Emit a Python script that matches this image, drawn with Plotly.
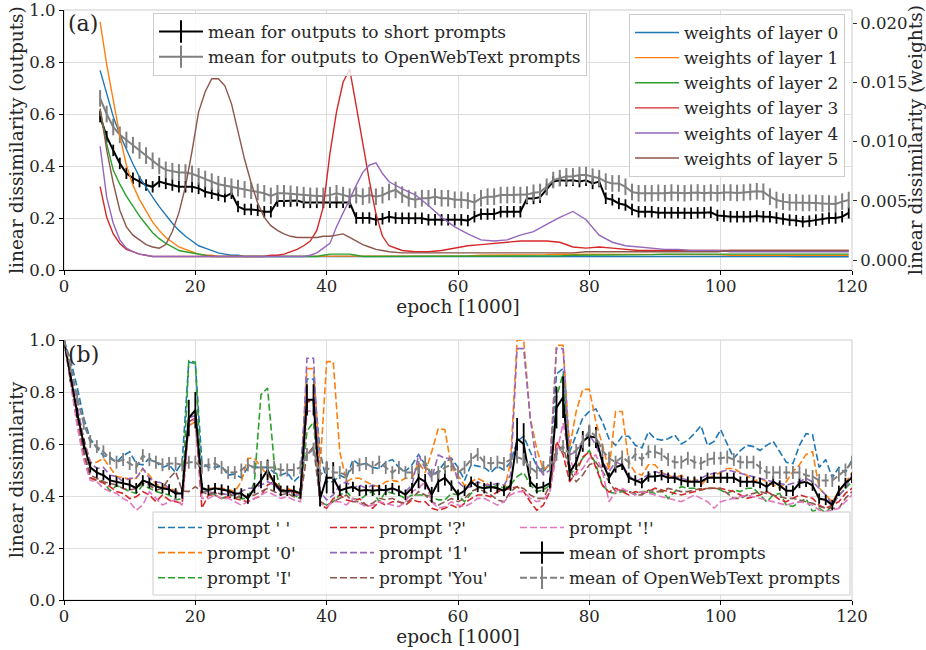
import plotly.graph_objects as go

FONT = "DejaVu Serif"
TXT = "#262626"
GRID = "#dedede"
FRAME = "#cccccc"

# ---------------- panel (a) data ----------------
epochs_a = [5.5 + i for i in range(115)]
mean_short_a = [
    0.59, 0.513, 0.46, 0.41, 0.372, 0.353, 0.34, 0.327, 0.32, 0.34,
    0.333, 0.327, 0.32, 0.32, 0.32, 0.314, 0.301, 0.295, 0.288, 0.282,
    0.295, 0.244, 0.233, 0.233, 0.23, 0.224, 0.224, 0.265, 0.265, 0.265,
    0.267, 0.26, 0.26, 0.26, 0.26, 0.26, 0.26, 0.26, 0.26, 0.20,
    0.20, 0.20, 0.193, 0.197, 0.205, 0.20, 0.199, 0.199, 0.199, 0.199,
    0.193, 0.193, 0.193, 0.193, 0.193, 0.193, 0.19, 0.205, 0.215, 0.215,
    0.215, 0.224, 0.224, 0.224, 0.224, 0.275, 0.275, 0.28, 0.31, 0.34,
    0.345, 0.343, 0.345, 0.34, 0.345, 0.333, 0.34, 0.276, 0.27, 0.256,
    0.25, 0.233, 0.224, 0.224, 0.224, 0.22, 0.22, 0.22, 0.22, 0.218,
    0.218, 0.22, 0.22, 0.222, 0.21, 0.208, 0.205, 0.205, 0.205, 0.205,
    0.208, 0.205, 0.205, 0.2, 0.196, 0.192, 0.19, 0.186, 0.188, 0.192,
    0.196, 0.2, 0.2, 0.205, 0.22]
mean_owt_a = [
    0.66, 0.60, 0.55, 0.52, 0.50, 0.48, 0.46, 0.44, 0.42, 0.40,
    0.385, 0.38, 0.375, 0.375, 0.37, 0.36, 0.35, 0.34, 0.33, 0.325,
    0.32, 0.315, 0.31, 0.305, 0.30, 0.295, 0.285, 0.295, 0.295, 0.293,
    0.29, 0.288, 0.285, 0.285, 0.285, 0.288, 0.295, 0.288, 0.282, 0.288,
    0.282, 0.288, 0.282, 0.288, 0.30, 0.308, 0.29, 0.276, 0.27, 0.276,
    0.276, 0.282, 0.276, 0.276, 0.27, 0.27, 0.267, 0.26, 0.276, 0.282,
    0.282, 0.288, 0.288, 0.29, 0.288, 0.29, 0.297, 0.30, 0.32, 0.346,
    0.353, 0.36, 0.36, 0.365, 0.365, 0.359, 0.353, 0.34, 0.333, 0.333,
    0.32, 0.30, 0.295, 0.295, 0.295, 0.297, 0.295, 0.298, 0.296, 0.295,
    0.297, 0.298, 0.295, 0.298, 0.295, 0.298, 0.298, 0.296, 0.298, 0.30,
    0.303, 0.301, 0.282, 0.269, 0.263, 0.26, 0.26, 0.258, 0.258, 0.258,
    0.256, 0.256, 0.254, 0.263, 0.269]
err_short_a = 0.022
err_owt_a = 0.032

epochs_layers = [5.5 + i for i in range(45)] + [51.5 + 2 * i for i in range(35)]
layer0 = [
    0.0160, 0.0140, 0.0121, 0.0106, 0.0093, 0.0081, 0.0070, 0.0061, 0.0053, 0.0045,
    0.0038, 0.0031, 0.0025, 0.0020, 0.0016, 0.0012, 0.0010, 0.0008, 0.0006, 0.0005,
    0.0004, 0.0004, 0.0003, 0.0003, 0.0003, 0.0003, 0.0003, 0.0003, 0.0003, 0.0003,
    0.0003, 0.0003, 0.0003, 0.0003, 0.0003, 0.0003, 0.0003, 0.0003, 0.0003, 0.0003,
    0.0003, 0.0003, 0.0003, 0.0003, 0.0003,
    0.0003, 0.0003, 0.0003, 0.0003, 0.0003, 0.0003, 0.0003, 0.0003, 0.0003, 0.0003,
    0.0003, 0.0003, 0.0003, 0.00035, 0.00035, 0.00035, 0.00035, 0.00035, 0.00035, 0.00035,
    0.00035, 0.00035, 0.00035, 0.00035, 0.0003, 0.0003, 0.0003, 0.0003, 0.0003, 0.0003,
    0.00028, 0.00028, 0.00028, 0.00028, 0.00028]
layer1 = [
    0.0201, 0.0165, 0.0135, 0.0105, 0.0080, 0.0063, 0.0051, 0.0041, 0.0032, 0.0025,
    0.0019, 0.0015, 0.0011, 0.0009, 0.0007, 0.0005, 0.0004, 0.0004, 0.0003, 0.0003,
    0.0003, 0.0003, 0.0003, 0.0003, 0.0003, 0.0003, 0.0003, 0.0003, 0.0003, 0.0003,
    0.0003, 0.0003, 0.0003, 0.0003, 0.0003, 0.0003, 0.0003, 0.0003, 0.0003, 0.0003,
    0.0003, 0.0003, 0.0003, 0.0003, 0.0003,
    0.0003, 0.0003, 0.0003, 0.0003, 0.00035, 0.00035, 0.0004, 0.0004, 0.0004, 0.0004,
    0.00045, 0.00045, 0.0005, 0.0005, 0.0005, 0.0005, 0.0005, 0.0005, 0.0005, 0.0005,
    0.0005, 0.0005, 0.00045, 0.00045, 0.00045, 0.0004, 0.0004, 0.0004, 0.0004, 0.0004,
    0.0004, 0.0004, 0.0004, 0.0004, 0.0004]
layer2 = [
    0.0127, 0.0098, 0.0076, 0.0064, 0.0054, 0.0045, 0.0037, 0.0030, 0.0023, 0.0018,
    0.0014, 0.0011, 0.0008, 0.0007, 0.0006, 0.0005, 0.0004, 0.0003, 0.0003, 0.0003,
    0.0003, 0.0003, 0.0003, 0.0003, 0.0003, 0.0003, 0.0003, 0.0003, 0.0003, 0.0003,
    0.0003, 0.0003, 0.0003, 0.0003, 0.0004, 0.0005, 0.0005, 0.0005, 0.0005, 0.0004,
    0.0003, 0.0003, 0.0003, 0.0003, 0.0003,
    0.0003, 0.0003, 0.0003, 0.0003, 0.0003, 0.0003, 0.0003, 0.0003, 0.0003, 0.0003,
    0.0003, 0.00035, 0.00035, 0.0004, 0.0004, 0.0004, 0.00045, 0.00045, 0.00045, 0.00045,
    0.0005, 0.0005, 0.0005, 0.0005, 0.0005, 0.0005, 0.0005, 0.0005, 0.0005, 0.0005,
    0.0005, 0.0005, 0.0005, 0.0005, 0.0005]
layer3 = [
    0.0062, 0.0036, 0.0022, 0.0014, 0.0009, 0.0007, 0.0005, 0.0004, 0.0003, 0.0003,
    0.0003, 0.0003, 0.0003, 0.0003, 0.0003, 0.0003, 0.0003, 0.0003, 0.0003, 0.0003,
    0.0003, 0.0003, 0.0003, 0.0003, 0.0003, 0.0003, 0.0004, 0.0004, 0.0005, 0.0007,
    0.0009, 0.0012, 0.0016, 0.0025, 0.0045, 0.0090, 0.0125, 0.0150, 0.0161, 0.0130,
    0.0098, 0.0067, 0.0039, 0.0020, 0.0012,
    0.0008, 0.0007, 0.0007, 0.0008, 0.0010, 0.0012, 0.0013, 0.0014, 0.0015, 0.0016,
    0.0016, 0.0016, 0.0015, 0.0011, 0.0010, 0.0011, 0.0010, 0.0009, 0.0008, 0.0008,
    0.0008, 0.0008, 0.0008, 0.0008, 0.0008, 0.0008, 0.0008, 0.0008, 0.0008, 0.0008,
    0.0008, 0.0008, 0.0008, 0.0008, 0.0008]
layer4 = [
    0.0096, 0.0053, 0.0031, 0.0017, 0.0010, 0.0007, 0.0005, 0.0004, 0.0003, 0.0003,
    0.0003, 0.0003, 0.0003, 0.0003, 0.0003, 0.0003, 0.0003, 0.0003, 0.0003, 0.0003,
    0.0003, 0.0003, 0.0003, 0.0003, 0.0003, 0.0003, 0.0003, 0.0003, 0.0003, 0.0003,
    0.0003, 0.0003, 0.0004, 0.0006, 0.0010, 0.0014, 0.0028, 0.0040, 0.0052, 0.0063,
    0.0074, 0.0080, 0.0082, 0.0073, 0.0066,
    0.0060, 0.0055, 0.0046, 0.0036, 0.0028, 0.0022, 0.0017, 0.0016, 0.0017, 0.0021,
    0.0024, 0.0030, 0.0036, 0.0041, 0.0034, 0.0021, 0.0015, 0.0012, 0.0011, 0.0010,
    0.0009, 0.0009, 0.0008, 0.0008, 0.0008, 0.0007, 0.0007, 0.0007, 0.0007, 0.0007,
    0.0007, 0.0007, 0.0007, 0.0007, 0.0007]
layer5 = [
    0.0128, 0.0093, 0.0065, 0.0042, 0.0028, 0.0021, 0.0017, 0.0013, 0.0011, 0.0010,
    0.0013, 0.0024, 0.0040, 0.0062, 0.0092, 0.0125, 0.0142, 0.0153, 0.0153, 0.0147,
    0.0132, 0.0108, 0.0085, 0.0065, 0.0048, 0.0036, 0.0029, 0.0025, 0.0022, 0.0020,
    0.0019, 0.0019, 0.0019, 0.0019, 0.0020, 0.0020, 0.0021, 0.0022, 0.0019, 0.0016,
    0.0013, 0.0011, 0.0009, 0.0008, 0.0007,
    0.0006, 0.0006, 0.0006, 0.0006, 0.0006, 0.0006, 0.0006, 0.0006, 0.0006, 0.0006,
    0.0006, 0.0006, 0.0006, 0.0006, 0.0007, 0.0007, 0.0007, 0.0007, 0.0007, 0.0007,
    0.0007, 0.0007, 0.0007, 0.0007, 0.0007, 0.0008, 0.0008, 0.0008, 0.0008, 0.0008,
    0.0008, 0.0008, 0.0008, 0.0008, 0.0008]
layer_names = ["weights of layer 0", "weights of layer 1", "weights of layer 2",
               "weights of layer 3", "weights of layer 4", "weights of layer 5"]

# ---------------- panel (b) data ----------------
epochs_b = list(range(121))
prompt_space = [
    1.0, 0.92, 0.82, 0.70, 0.62, 0.585, 0.555, 0.55, 0.53, 0.555,
    0.57, 0.525, 0.52, 0.545, 0.53, 0.51, 0.52, 0.49, 0.53, 0.915,
    0.91, 0.53, 0.51, 0.51, 0.515, 0.48, 0.485, 0.47, 0.51, 0.51,
    0.51, 0.51, 0.49, 0.48, 0.49, 0.455, 0.48, 0.85, 0.85, 0.57,
    0.455, 0.455, 0.48, 0.468, 0.54, 0.52, 0.525, 0.51, 0.505, 0.53,
    0.54, 0.51, 0.495, 0.52, 0.56, 0.52, 0.48, 0.495, 0.53, 0.545,
    0.51, 0.46, 0.52, 0.515, 0.51, 0.49, 0.515, 0.50, 0.53, 0.61,
    0.63, 0.57, 0.515, 0.49, 0.53, 0.87, 0.89, 0.57, 0.635, 0.70,
    0.725, 0.735, 0.685, 0.62, 0.595, 0.63, 0.63, 0.595, 0.585, 0.647,
    0.62, 0.615, 0.62, 0.635, 0.60, 0.615, 0.64, 0.67, 0.595, 0.61,
    0.655, 0.60, 0.545, 0.575, 0.595, 0.59, 0.575, 0.595, 0.61, 0.57,
    0.53, 0.525, 0.595, 0.64, 0.635, 0.51, 0.54, 0.47, 0.51, 0.49,
    0.54]
prompt_0 = [
    1.0, 0.88, 0.74, 0.62, 0.53, 0.53, 0.545, 0.51, 0.475, 0.47,
    0.465, 0.468, 0.505, 0.48, 0.445, 0.435, 0.43, 0.42, 0.41, 0.67,
    0.685, 0.43, 0.43, 0.43, 0.43, 0.425, 0.417, 0.455, 0.545, 0.545,
    0.51, 0.48, 0.455, 0.417, 0.43, 0.417, 0.404, 0.89, 0.89, 0.51,
    0.917, 0.917, 0.57, 0.455, 0.468, 0.468, 0.455, 0.442, 0.436, 0.455,
    0.46, 0.455, 0.468, 0.468, 0.53, 0.49, 0.57, 0.66, 0.655, 0.51,
    0.48, 0.44, 0.455, 0.468, 0.455, 0.436, 0.43, 0.417, 0.53, 1.0,
    1.0, 0.70, 0.58, 0.50, 0.52, 0.98, 0.98, 0.585, 0.725, 0.81,
    0.81, 0.685, 0.595, 0.50, 0.725, 0.725, 0.53, 0.49, 0.48, 0.52,
    0.52, 0.49, 0.48, 0.468, 0.48, 0.455, 0.468, 0.442, 0.468, 0.48,
    0.49, 0.506, 0.506, 0.49, 0.48, 0.455, 0.468, 0.455, 0.442, 0.43,
    0.455, 0.494, 0.52, 0.56, 0.57, 0.43, 0.404, 0.378, 0.417, 0.45,
    0.49]
prompt_I = [
    1.0, 0.84, 0.69, 0.57, 0.47, 0.46, 0.455, 0.42, 0.44, 0.43,
    0.417, 0.41, 0.442, 0.43, 0.417, 0.41, 0.404, 0.385, 0.39, 0.92,
    0.915, 0.43, 0.417, 0.404, 0.39, 0.40, 0.404, 0.39, 0.39, 0.455,
    0.79, 0.815, 0.53, 0.417, 0.417, 0.404, 0.39, 0.65, 0.685, 0.378,
    0.365, 0.378, 0.404, 0.417, 0.39, 0.385, 0.404, 0.417, 0.378, 0.417,
    0.41, 0.404, 0.39, 0.404, 0.404, 0.404, 0.397, 0.385, 0.385, 0.41,
    0.404, 0.378, 0.41, 0.43, 0.442, 0.43, 0.442, 0.43, 0.442, 0.475,
    0.49, 0.442, 0.417, 0.423, 0.442, 0.78, 0.87, 0.48, 0.51, 0.545,
    0.575, 0.52, 0.442, 0.415, 0.41, 0.417, 0.417, 0.41, 0.417, 0.417,
    0.41, 0.423, 0.39, 0.417, 0.436, 0.43, 0.43, 0.423, 0.43, 0.43,
    0.423, 0.41, 0.423, 0.417, 0.43, 0.43, 0.404, 0.378, 0.404, 0.41,
    0.365, 0.36, 0.378, 0.39, 0.34, 0.353, 0.335, 0.365, 0.404, 0.43,
    0.455]
prompt_q = [
    1.0, 0.84, 0.69, 0.56, 0.47, 0.46, 0.45, 0.436, 0.417, 0.41,
    0.39, 0.397, 0.417, 0.404, 0.378, 0.404, 0.385, 0.378, 0.372, 0.685,
    0.70, 0.353, 0.404, 0.404, 0.39, 0.397, 0.39, 0.385, 0.378, 0.39,
    0.40, 0.442, 0.455, 0.43, 0.41, 0.417, 0.404, 0.76, 0.77, 0.365,
    0.353, 0.39, 0.404, 0.385, 0.378, 0.39, 0.365, 0.353, 0.378, 0.365,
    0.378, 0.378, 0.365, 0.385, 0.378, 0.378, 0.353, 0.345, 0.353, 0.365,
    0.353, 0.372, 0.39, 0.404, 0.404, 0.397, 0.417, 0.423, 0.43, 0.435,
    0.417, 0.378, 0.345, 0.365, 0.417, 0.61, 0.56, 0.455, 0.49, 0.55,
    0.57, 0.51, 0.44, 0.415, 0.43, 0.417, 0.404, 0.417, 0.41, 0.417,
    0.43, 0.423, 0.417, 0.41, 0.404, 0.41, 0.417, 0.423, 0.43, 0.43,
    0.43, 0.423, 0.417, 0.404, 0.391, 0.397, 0.404, 0.417, 0.404, 0.385,
    0.378, 0.391, 0.404, 0.397, 0.391, 0.365, 0.353, 0.365, 0.378, 0.41,
    0.43]
prompt_1 = [
    1.0, 0.87, 0.74, 0.62, 0.53, 0.506, 0.51, 0.48, 0.475, 0.455,
    0.468, 0.468, 0.506, 0.468, 0.455, 0.45, 0.43, 0.417, 0.404, 0.70,
    0.71, 0.417, 0.417, 0.41, 0.41, 0.404, 0.404, 0.417, 0.43, 0.43,
    0.442, 0.455, 0.442, 0.417, 0.417, 0.404, 0.404, 0.93, 0.93, 0.417,
    0.385, 0.404, 0.442, 0.455, 0.43, 0.442, 0.43, 0.442, 0.43, 0.417,
    0.43, 0.417, 0.417, 0.442, 0.558, 0.506, 0.468, 0.558, 0.545, 0.545,
    0.455, 0.43, 0.436, 0.455, 0.442, 0.442, 0.449, 0.442, 0.481, 0.967,
    0.967, 0.70, 0.519, 0.481, 0.50, 0.967, 0.967, 0.558, 0.571, 0.609,
    0.635, 0.596, 0.532, 0.494, 0.532, 0.519, 0.481, 0.455, 0.468, 0.481,
    0.494, 0.487, 0.481, 0.475, 0.468, 0.462, 0.455, 0.468, 0.481, 0.487,
    0.494, 0.50, 0.494, 0.487, 0.481, 0.475, 0.468, 0.462, 0.455, 0.449,
    0.442, 0.449, 0.455, 0.468, 0.455, 0.43, 0.404, 0.365, 0.40, 0.43,
    0.481]
prompt_you = [
    1.0, 0.84, 0.69, 0.57, 0.48, 0.468, 0.455, 0.449, 0.442, 0.429,
    0.423, 0.429, 0.449, 0.442, 0.423, 0.429, 0.468, 0.494, 0.42, 0.417,
    0.436, 0.417, 0.404, 0.417, 0.404, 0.417, 0.39, 0.404, 0.397, 0.404,
    0.417, 0.429, 0.417, 0.404, 0.41, 0.397, 0.391, 0.56, 0.59, 0.378,
    0.365, 0.378, 0.391, 0.404, 0.378, 0.378, 0.365, 0.372, 0.391, 0.385,
    0.391, 0.378, 0.372, 0.391, 0.417, 0.404, 0.378, 0.365, 0.378, 0.39,
    0.378, 0.39, 0.417, 0.429, 0.417, 0.404, 0.385, 0.378, 0.417, 0.436,
    0.429, 0.404, 0.391, 0.391, 0.442, 0.58, 0.59, 0.50, 0.455, 0.481,
    0.52, 0.53, 0.494, 0.455, 0.417, 0.423, 0.417, 0.404, 0.404, 0.423,
    0.417, 0.417, 0.429, 0.423, 0.417, 0.417, 0.423, 0.429, 0.429, 0.429,
    0.429, 0.41, 0.391, 0.391, 0.404, 0.41, 0.417, 0.41, 0.404, 0.397,
    0.391, 0.391, 0.385, 0.378, 0.372, 0.36, 0.353, 0.353, 0.353, 0.391,
    0.417]
prompt_excl = [
    1.0, 0.83, 0.67, 0.54, 0.46, 0.455, 0.43, 0.417, 0.41, 0.39,
    0.378, 0.345, 0.365, 0.417, 0.391, 0.365, 0.378, 0.385, 0.365, 0.67,
    0.70, 0.391, 0.391, 0.404, 0.391, 0.391, 0.378, 0.365, 0.378, 0.391,
    0.404, 0.417, 0.404, 0.391, 0.397, 0.385, 0.378, 0.725, 0.73, 0.372,
    0.359, 0.378, 0.378, 0.365, 0.391, 0.372, 0.359, 0.365, 0.378, 0.372,
    0.365, 0.359, 0.378, 0.417, 0.43, 0.455, 0.378, 0.353, 0.359, 0.378,
    0.365, 0.359, 0.372, 0.391, 0.391, 0.378, 0.365, 0.378, 0.404, 0.417,
    0.417, 0.391, 0.378, 0.385, 0.417, 0.56, 0.68, 0.545, 0.481, 0.506,
    0.545, 0.558, 0.494, 0.378, 0.417, 0.429, 0.417, 0.404, 0.417, 0.41,
    0.404, 0.397, 0.391, 0.385, 0.378, 0.391, 0.404, 0.391, 0.378, 0.353,
    0.378, 0.385, 0.391, 0.397, 0.404, 0.397, 0.391, 0.385, 0.378, 0.372,
    0.365, 0.372, 0.378, 0.372, 0.365, 0.345, 0.34, 0.345, 0.353, 0.378,
    0.404]
mean_short_b = [
    1.0, 0.86, 0.72, 0.60, 0.51, 0.49, 0.48, 0.46, 0.455, 0.45,
    0.443, 0.43, 0.46, 0.45, 0.437, 0.43, 0.425, 0.41, 0.41, 0.70,
    0.73, 0.43, 0.423, 0.43, 0.425, 0.42, 0.41, 0.41, 0.39, 0.43,
    0.46, 0.50, 0.45, 0.42, 0.42, 0.42, 0.41, 0.77, 0.77, 0.39,
    0.47, 0.47, 0.42, 0.43, 0.435, 0.42, 0.423, 0.42, 0.423, 0.423,
    0.43, 0.42, 0.405, 0.43, 0.47, 0.455, 0.405, 0.455, 0.47, 0.44,
    0.405, 0.42, 0.455, 0.435, 0.43, 0.435, 0.43, 0.42, 0.44, 0.62,
    0.60, 0.455, 0.43, 0.435, 0.45, 0.74, 0.78, 0.49, 0.53, 0.61,
    0.63, 0.625, 0.53, 0.47, 0.51, 0.52, 0.47, 0.46, 0.45, 0.475,
    0.475, 0.48, 0.47, 0.47, 0.46, 0.455, 0.455, 0.455, 0.47, 0.47,
    0.47, 0.47, 0.47, 0.455, 0.455, 0.455, 0.45, 0.435, 0.455, 0.44,
    0.42, 0.42, 0.45, 0.455, 0.44, 0.39, 0.385, 0.365, 0.42, 0.45,
    0.47]
mean_owt_b = [
    1.0, 0.9, 0.78, 0.68, 0.61, 0.59, 0.57, 0.545, 0.53, 0.54,
    0.525, 0.51, 0.555, 0.54, 0.53, 0.52, 0.525, 0.525, 0.52, 0.53,
    0.53, 0.51, 0.52, 0.525, 0.51, 0.49, 0.49, 0.50, 0.52, 0.51,
    0.51, 0.51, 0.51, 0.50, 0.50, 0.50, 0.51, 0.56, 0.58, 0.48,
    0.51, 0.49, 0.49, 0.48, 0.51, 0.52, 0.525, 0.51, 0.53, 0.51,
    0.49, 0.51, 0.49, 0.49, 0.51, 0.53, 0.48, 0.49, 0.51, 0.52,
    0.49, 0.51, 0.54, 0.56, 0.53, 0.525, 0.53, 0.525, 0.54, 0.55,
    0.54, 0.51, 0.49, 0.51, 0.52, 0.56, 0.59, 0.56, 0.575, 0.61,
    0.65, 0.63, 0.575, 0.545, 0.53, 0.55, 0.53, 0.56, 0.54, 0.57,
    0.57, 0.56, 0.54, 0.53, 0.53, 0.545, 0.53, 0.525, 0.54, 0.545,
    0.545, 0.55, 0.54, 0.53, 0.53, 0.53, 0.51, 0.49, 0.49, 0.49,
    0.49, 0.49, 0.49, 0.48, 0.475, 0.46, 0.46, 0.46, 0.48, 0.50,
    0.53]
err_short_b = [
    0.0, 0.02, 0.02, 0.02, 0.02, 0.02, 0.02, 0.02, 0.02, 0.02,
    0.02, 0.02, 0.02, 0.02, 0.02, 0.02, 0.02, 0.02, 0.02, 0.07,
    0.07, 0.02, 0.02, 0.02, 0.02, 0.02, 0.02, 0.02, 0.02, 0.02,
    0.03, 0.04, 0.03, 0.02, 0.02, 0.02, 0.02, 0.06, 0.06, 0.03,
    0.06, 0.06, 0.02, 0.02, 0.02, 0.02, 0.02, 0.02, 0.02, 0.02,
    0.02, 0.02, 0.02, 0.02, 0.04, 0.03, 0.03, 0.04, 0.03, 0.02,
    0.02, 0.02, 0.02, 0.02, 0.02, 0.02, 0.02, 0.02, 0.02, 0.08,
    0.08, 0.02, 0.02, 0.02, 0.02, 0.08, 0.08, 0.03, 0.03, 0.04,
    0.04, 0.04, 0.02, 0.02, 0.02, 0.02, 0.02, 0.02, 0.02, 0.02,
    0.02, 0.02, 0.02, 0.02, 0.02, 0.02, 0.02, 0.02, 0.02, 0.02,
    0.02, 0.02, 0.02, 0.02, 0.02, 0.02, 0.02, 0.02, 0.02, 0.02,
    0.02, 0.02, 0.02, 0.02, 0.02, 0.02, 0.02, 0.02, 0.02, 0.02,
    0.02]
err_owt_b = [0.0] + [0.025] * 120

prompt_names = ["prompt ' '", "prompt '0'", "prompt 'I'", "prompt '?'",
                "prompt '1'", "prompt 'You'", "prompt '!'"]
prompt_series = [prompt_space, prompt_0, prompt_I, prompt_q, prompt_1, prompt_you, prompt_excl]

TAB = ["#1f77b4", "#ff7f0e", "#2ca02c", "#d62728", "#9467bd", "#8c564b", "#e377c2"]

fig = go.Figure()

# ---- panel (a): means on left axis ----
fig.add_trace(go.Scatter(
    x=epochs_a, y=mean_short_a, mode="lines", line=dict(color="black", width=2),
    error_y=dict(type="constant", value=err_short_a, width=0, thickness=1.8, color="black"),
    showlegend=False, xaxis="x", yaxis="y", hoverinfo="skip"))
fig.add_trace(go.Scatter(
    x=epochs_a, y=mean_owt_a, mode="lines", line=dict(color="gray", width=2),
    error_y=dict(type="constant", value=err_owt_a, width=0, thickness=2, color="gray"),
    showlegend=False, xaxis="x", yaxis="y", hoverinfo="skip"))
fig.add_trace(go.Scatter(
    x=[None], y=[None], mode="lines+markers", name="mean for outputs to short prompts",
    line=dict(color="black", width=2),
    marker=dict(symbol="line-ns", size=16, line=dict(color="black", width=2)),
    legend="legend", xaxis="x", yaxis="y"))
fig.add_trace(go.Scatter(
    x=[None], y=[None], mode="lines+markers", name="mean for outputs to OpenWebText prompts",
    line=dict(color="gray", width=2),
    marker=dict(symbol="line-ns", size=16, line=dict(color="gray", width=2)),
    legend="legend", xaxis="x", yaxis="y"))

# ---- panel (a): layer weights on right axis ----
for name, vals, col in zip(layer_names, [layer0, layer1, layer2, layer3, layer4, layer5], TAB):
    fig.add_trace(go.Scatter(
        x=epochs_layers, y=vals, mode="lines", name=name,
        line=dict(color=col, width=1.4), legend="legend2",
        xaxis="x", yaxis="y2", hoverinfo="skip"))

# ---- panel (b) ----
legend_of_prompt = ["legend3", "legend3", "legend3", "legend4", "legend4", "legend4", "legend5"]
for name, vals, col, lg in zip(prompt_names, prompt_series, TAB, legend_of_prompt):
    fig.add_trace(go.Scatter(
        x=epochs_b, y=vals, mode="lines", name=name,
        line=dict(color=col, width=1.6, dash="7px,3px"), legend=lg,
        xaxis="x2", yaxis="y3", hoverinfo="skip"))
fig.add_trace(go.Scatter(
    x=epochs_b, y=mean_short_b, mode="lines", line=dict(color="black", width=2),
    error_y=dict(type="data", array=err_short_b, width=0, thickness=1.8, color="black"),
    showlegend=False, xaxis="x2", yaxis="y3", hoverinfo="skip"))
fig.add_trace(go.Scatter(
    x=epochs_b, y=mean_owt_b, mode="lines", line=dict(color="gray", width=2, dash="7px,3px"),
    error_y=dict(type="data", array=err_owt_b, width=0, thickness=1.8, color="gray"),
    showlegend=False, xaxis="x2", yaxis="y3", hoverinfo="skip"))
fig.add_trace(go.Scatter(
    x=[None], y=[None], mode="lines+markers", name="mean of short prompts",
    line=dict(color="black", width=2),
    marker=dict(symbol="line-ns", size=16, line=dict(color="black", width=2)),
    legend="legend5", xaxis="x2", yaxis="y3"))
fig.add_trace(go.Scatter(
    x=[None], y=[None], mode="lines+markers", name="mean of OpenWebText prompts",
    line=dict(color="gray", width=2, dash="7px,3px"),
    marker=dict(symbol="line-ns", size=16, line=dict(color="gray", width=2)),
    legend="legend5", xaxis="x2", yaxis="y3"))

W, H = 926, 650
xd = [64 / W, 852 / W]
yd_top = [(H - 270) / H, (H - 10) / H]
yd_bot = [(H - 600) / H, (H - 340) / H]

tickfont = dict(family=FONT, size=16.5, color=TXT)
titlefont = dict(family=FONT, size=18.5, color=TXT)

def xax(anchor, domain):
    return dict(domain=domain, anchor=anchor, range=[0, 120], tick0=0, dtick=20,
                automargin=False,
                showgrid=True, gridcolor=GRID, gridwidth=1, zeroline=False,
                showline=True, linecolor="black", linewidth=1.3,
                ticks="outside", ticklen=4, tickcolor="black", tickwidth=1,
                tickfont=tickfont, ticklabelstandoff=-3,
                title=dict(text="epoch [1000]", font=titlefont, standoff=0))

def yax(anchor, domain, title):
    return dict(domain=domain, anchor=anchor, range=[0, 1.0], tick0=0, dtick=0.2,
                automargin=False,
                tickformat=".1f", showgrid=True, gridcolor=GRID, gridwidth=1,
                zeroline=False, showline=True, linecolor="black", linewidth=1.3,
                ticks="outside", ticklen=4, tickcolor="black", tickwidth=1,
                tickfont=tickfont,
                title=dict(text=title, font=titlefont, standoff=0))

legend_common = dict(font=dict(family=FONT, size=17, color=TXT),
                     xanchor="left", yanchor="top", itemwidth=44,
                     itemsizing="trace")

fig.update_layout(
    width=W, height=H, autosize=False,
    margin=dict(l=0, r=0, t=0, b=0, autoexpand=False),
    paper_bgcolor="white", plot_bgcolor="white",
    font=dict(family=FONT, color=TXT),
    xaxis=xax("y", xd),
    yaxis=yax("x", yd_top, "linear dissimilarity (outputs)"),
    yaxis2=dict(overlaying="y", side="right", anchor="x", automargin=False,
                range=[-0.000844, 0.0211], tick0=0, dtick=0.005, tickformat=".3f",
                showgrid=False, zeroline=False, showline=False,
                ticks="outside", ticklen=4, tickcolor="#333333", tickwidth=1,
                tickfont=tickfont,
                title=dict(text="linear dissimilarity (weights)", font=titlefont, standoff=10)),
    xaxis2=xax("y3", xd),
    yaxis3=yax("x2", yd_bot, "linear dissimilarity"),
    legend=dict(x=153 / W, y=(H - 13) / H, bgcolor="rgba(255,255,255,0.8)",
                bordercolor=FRAME, borderwidth=1, **legend_common),
    legend2=dict(x=629 / W, y=(H - 14) / H, bgcolor="rgba(255,255,255,0.8)",
                 bordercolor=FRAME, borderwidth=1, **legend_common),
    legend3=dict(x=153 / W, y=(H - 510) / H, bgcolor="rgba(0,0,0,0)",
                 borderwidth=0, **legend_common),
    legend4=dict(x=325 / W, y=(H - 510) / H, bgcolor="rgba(0,0,0,0)",
                 borderwidth=0, **legend_common),
    legend5=dict(x=515 / W, y=(H - 510) / H, bgcolor="rgba(0,0,0,0)",
                 borderwidth=0, **legend_common),
    shapes=[
        dict(type="rect", xref="x domain", yref="y domain", x0=0, x1=1, y0=0, y1=1,
             line=dict(color=FRAME, width=1), layer="below"),
        dict(type="rect", xref="x2 domain", yref="y3 domain", x0=0, x1=1, y0=0, y1=1,
             line=dict(color=FRAME, width=1), layer="below"),
        dict(type="rect", xref="paper", yref="paper",
             x0=153 / W, x1=850 / W, y0=(H - 595) / H, y1=(H - 512) / H,
             fillcolor="rgba(255,255,255,0.8)", line=dict(color=FRAME, width=1),
             layer="above"),
    ],
    annotations=[
        dict(text="(a)", xref="paper", yref="paper", x=66 / W, y=(H - 9) / H,
             xanchor="left", yanchor="top", showarrow=False,
             font=dict(family=FONT, size=22, color=TXT)),
        dict(text="(b)", xref="paper", yref="paper", x=66 / W, y=(H - 340) / H,
             xanchor="left", yanchor="top", showarrow=False,
             font=dict(family=FONT, size=22, color=TXT)),
    ],
)

fig.write_html("out.html")
